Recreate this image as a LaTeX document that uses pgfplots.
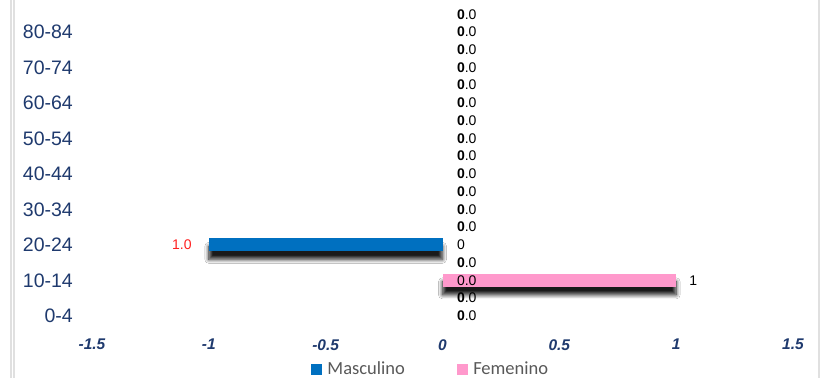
\documentclass[border=0pt]{standalone}
\usepackage{pgfplots}
\pgfplotsset{compat=1.18}
\usepackage{pgfplotstable}
\usetikzlibrary{shadows.blur}
\usepackage{fontspec}
\setmainfont{Liberation Sans}
\newfontfamily\calibri{Carlito}
\definecolor{masc}{HTML}{0070C0}
\definecolor{fem}{HTML}{FF99CC}
\definecolor{navy}{HTML}{1F3A6E}
\definecolor{lblred}{HTML}{FF2020}
\definecolor{legtext}{HTML}{595959}
\newcommand{\bz}{\textbf{0}}

% cat index, Masculino, Femenino
\pgfplotstableread{
cat masc fem
0 0 0
1 0 0
2 0 1
3 0 0
4 -1 0
5 0 0
6 0 0
7 0 0
8 0 0
9 0 0
10 0 0
11 0 0
12 0 0
13 0 0
14 0 0
15 0 0
16 0 0
17 0 0
}\datatable

% data labels at the zero line
\pgfplotstableread{
x cat label
0 0 \bz.0
0 1 \bz.0
0 2 0.0
0 3 \bz.0
0 4 0
0 5 \bz.0
0 6 \bz.0
0 7 \bz.0
0 8 \bz.0
0 9 \bz.0
0 10 \bz.0
0 11 \bz.0
0 12 \bz.0
0 13 \bz.0
0 14 \bz.0
0 15 \bz.0
0 16 \bz.0
0 17 \bz.0
}\labA

\begin{document}
\begin{tikzpicture}
\path[use as bounding box] (0,0) rectangle (825pt,378pt);
\fill[white] (0,0) rectangle (825pt,378pt);
\draw[black!12, line width=1.6pt] (11pt,0) -- (11pt,378pt);
\draw[black!12, line width=1.2pt] (14pt,0) -- (14pt,378pt);
\draw[black!12, line width=1.6pt] (819pt,0) -- (819pt,378pt);
\begin{axis}[
  at={(92pt,48pt)}, anchor=south west,
  scale only axis, width=701pt, height=330pt,
  xmin=-1.5, xmax=1.5, ymin=-0.8, ymax=17.8,
  axis line style={draw=none},
  clip=false,
  xbar, bar width=13pt, bar shift=0pt,
  xtick={-1.5,-1,-0.5,0,0.5,1,1.5},
  xticklabels={-1.5,-1,-0.5,0,0.5,1,1.5},
  ytick={0,2,4,6,8,10,12,14,16},
  yticklabels={0-4,10-14,20-24,30-34,40-44,50-54,60-64,70-74,80-84},
  major tick length=0pt,
  tick style={draw=none},
  yticklabel style={font=\fontsize{19.5}{20}\selectfont, text=navy, anchor=east, inner sep=0pt, xshift=-19pt},
  xticklabel style={font=\fontsize{15.5}{16}\selectfont\bfseries\itshape, text=navy, anchor=north, inner sep=0pt, yshift=-9pt},
  legend style={at={(0.483,-0.118)}, anchor=center, draw=none, fill=none,
    legend columns=2, font=\calibri\fontsize{18.5}{20}\selectfont, text=legtext,
    /tikz/every odd column/.append style={column sep=4pt},
    /tikz/every even column/.append style={column sep=50pt},
    inner sep=0pt},
  legend cell align=left,
]
\addplot[fill=masc, draw=none, forget plot,
  x filter/.expression={x==0 ? nan : x}, unbounded coords=discard,
  blur shadow={shadow xshift=0pt, shadow yshift=-8pt, shadow opacity=90, shadow blur radius=4pt, shadow blur steps=10}]
  table[x=masc, y=cat]{\datatable};
\addplot[fill=fem, draw=none, forget plot,
  x filter/.expression={x==0 ? nan : x}, unbounded coords=discard,
  blur shadow={shadow xshift=0pt, shadow yshift=-8pt, shadow opacity=90, shadow blur radius=4pt, shadow blur steps=10}]
  table[x=fem, y=cat]{\datatable};

\addplot[draw=none, mark=none, forget plot, nodes near coords, point meta=explicit symbolic,
  every node near coord/.style={anchor=west, xshift=14.3pt, inner sep=0pt, font=\fontsize{14}{14}\selectfont, text=black}]
  table[x=x, y=cat, meta=label]{\labA};
\addplot[draw=none, mark=none, forget plot, nodes near coords, point meta=explicit symbolic,
  every node near coord/.style={anchor=east, xshift=-17pt, inner sep=0pt, font=\fontsize{14}{14}\selectfont, text=lblred}]
  coordinates {(-1,4) [1.0]};
\addplot[draw=none, mark=none, forget plot, nodes near coords, point meta=explicit symbolic,
  every node near coord/.style={anchor=west, xshift=13pt, inner sep=0pt, font=\fontsize{14}{14}\selectfont, text=black}]
  coordinates {(1,2) [1]};

\addlegendimage{legend image code/.code={\fill[masc] (0pt,-5pt) rectangle (10pt,5pt);}}
\addlegendentry{Masculino}
\addlegendimage{legend image code/.code={\fill[fem] (0pt,-5pt) rectangle (10pt,5pt);}}
\addlegendentry{Femenino}
\end{axis}
\end{tikzpicture}
\end{document}
